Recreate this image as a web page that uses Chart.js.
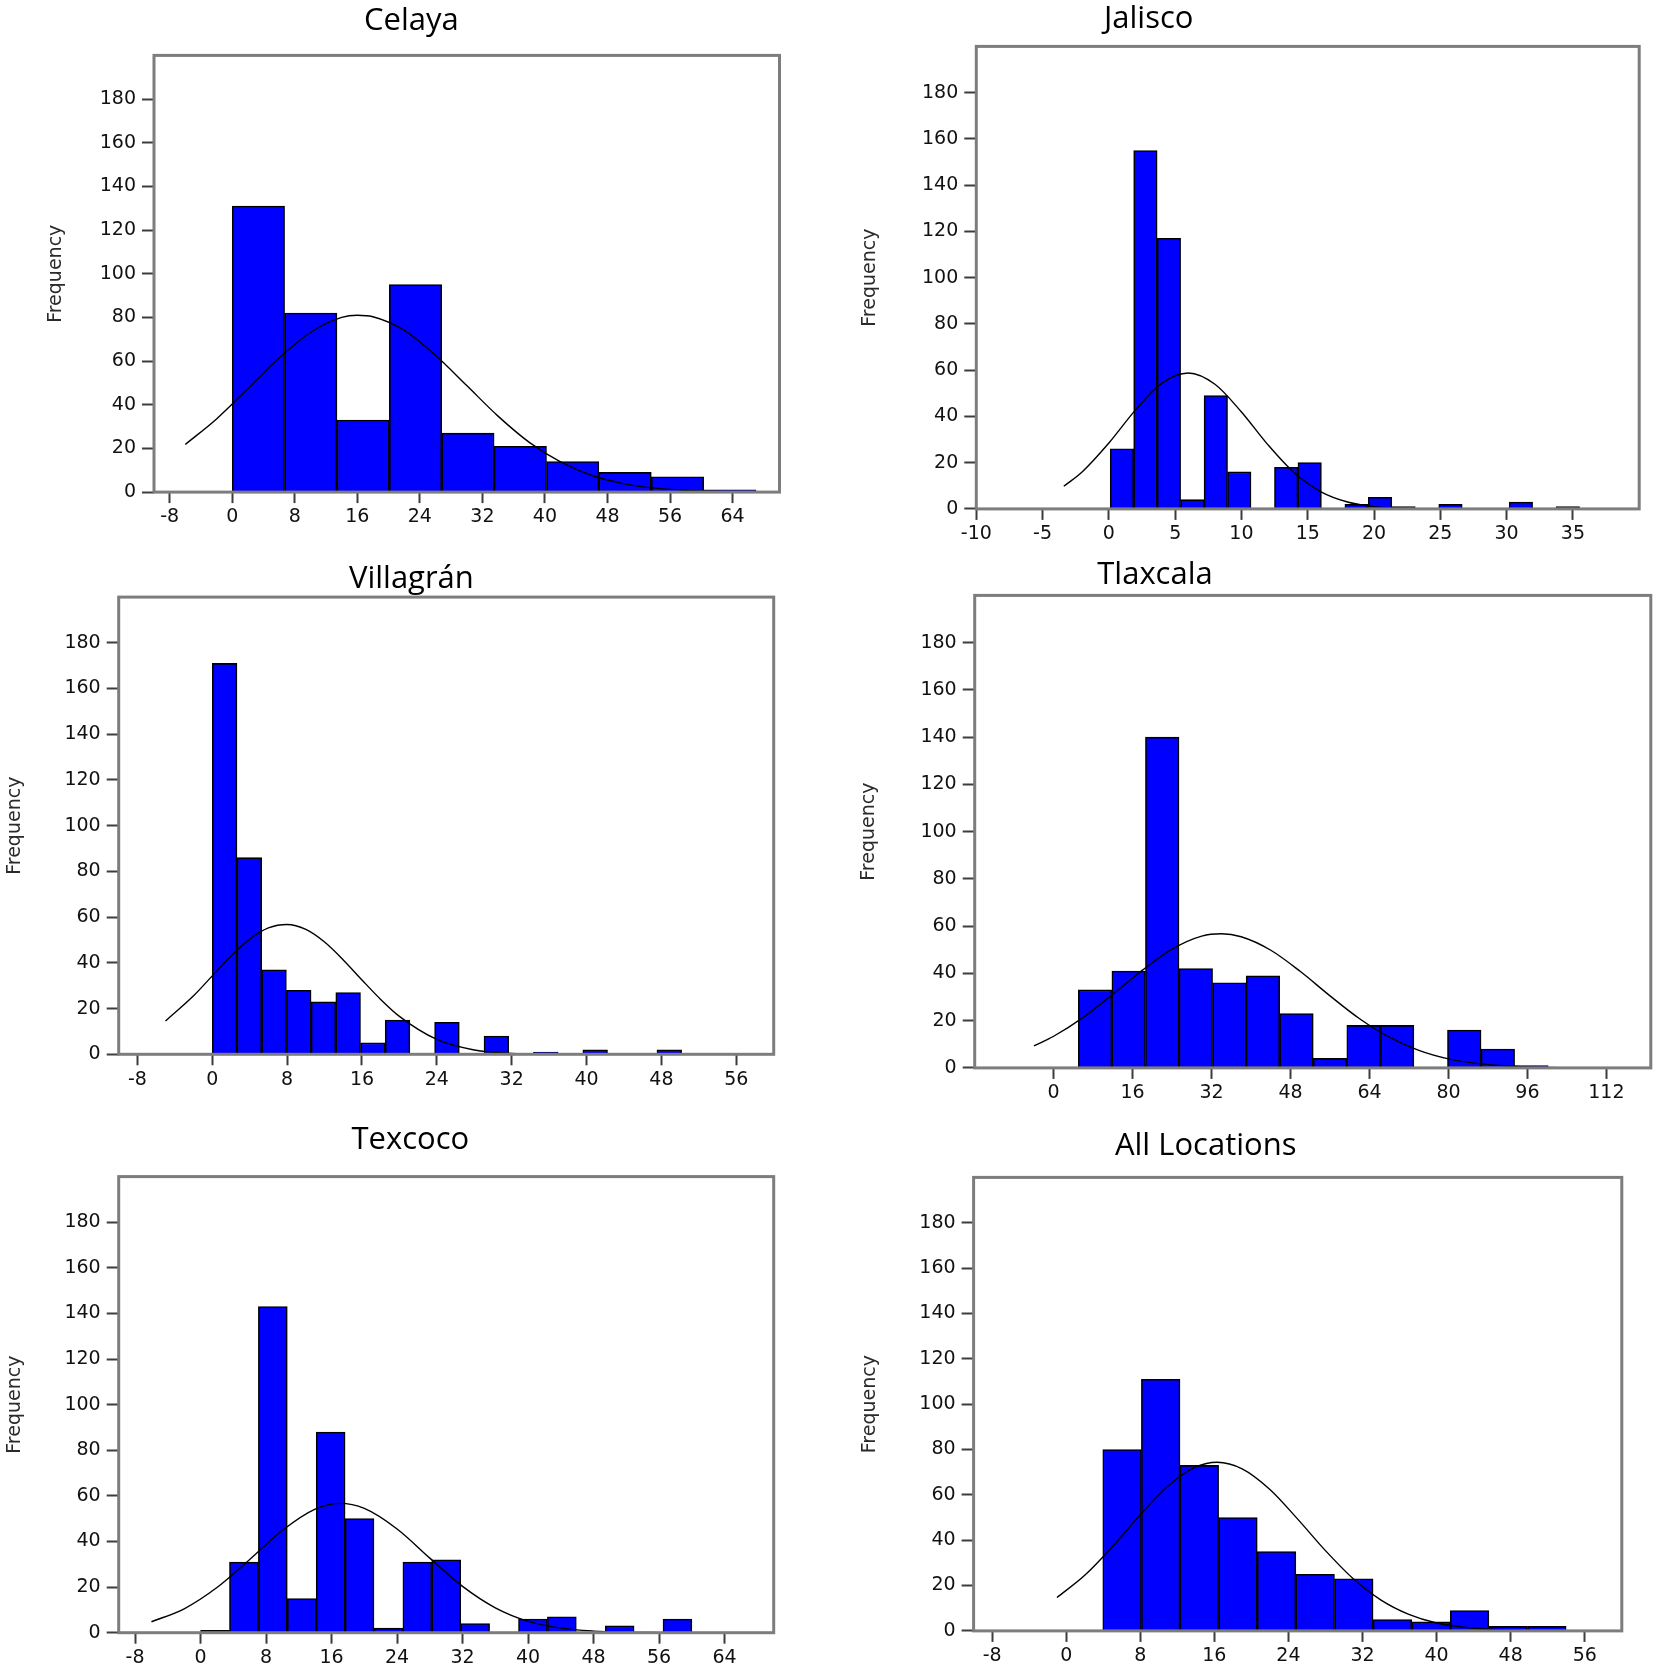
<!DOCTYPE html>
<html>
<head>
<meta charset="utf-8">
<script src="https://cdn.jsdelivr.net/npm/chart.js@4.4.1/dist/chart.umd.min.js"></script>
<style>
  html, body { margin: 0; padding: 0; background: #fff; overflow: hidden; }
  body { width: 1654px; height: 1667px; position: relative; }
  .panel { position: absolute; }
  .title {
    position: absolute;
    font-family: "Open Sans", sans-serif;
    font-size: 31px;
    line-height: 1;
    color: #000;
    white-space: nowrap;
    transform: translate(-50%, -50%);
  }
</style>
</head>
<body>
<script>
// y axis is the same on every panel
const yTicks = [0, 20, 40, 60, 80, 100, 120, 140, 160, 180];

// Celaya
const celayaBinStart = 0;
const celayaBinWidth = 6.7;
const celayaCounts = [131, 82, 33, 95, 27, 21, 14, 9, 7, 1];
const celayaCurveX = [-6, -2, 2, 6, 10, 14, 16, 18, 22, 26, 30, 34, 38, 42, 46, 50, 54, 58, 62, 66];
const celayaCurveY = [21.8, 33.5, 47.3, 61.4, 73.1, 80, 81, 80.3, 74.1, 62.7, 48.8, 34.8, 22.8, 13.8, 7.6, 3.9, 1.8, 0.8, 0.3, 0.1];
const celayaTicks = [-8, 0, 8, 16, 24, 32, 40, 48, 56, 64];

// Jalisco
const jaliscoBinStart = 0.1;
const jaliscoBinWidth = 1.77;
const jaliscoCounts = [26, 155, 117, 4, 49, 16, 0, 18, 20, 0, 2, 5, 1, 0, 2, 0, 0, 3, 0, 1, 0, 0];
const jaliscoCurveX = [-3.4, -2, 0, 2, 4, 6, 8, 10, 12, 14, 16, 18, 20, 24, 28, 32, 38.5];
const jaliscoCurveY = [9.8, 16.1, 28.5, 42.7, 54.4, 58.8, 53.9, 41.9, 27.7, 15.5, 7.4, 3.0, 1.0, 0.1, 0, 0, 0];
const jaliscoTicks = [-10, -5, 0, 5, 10, 15, 20, 25, 30, 35];

// Villagrán
const villagranBinStart = 0;
const villagranBinWidth = 2.64;
const villagranCounts = [171, 86, 37, 28, 23, 27, 5, 15, 0, 14, 0, 8, 0, 1, 0, 2, 0, 0, 2, 0, 0];
const villagranCurveX = [-5, -2, 0, 2, 4, 6, 8, 10, 12, 14, 16, 18, 20, 24, 28, 32, 36, 40, 48, 55];
const villagranCurveY = [14.6, 25.6, 34.3, 43, 50.4, 55.3, 56.8, 54.6, 49.1, 41.3, 32.5, 24.0, 16.6, 6.5, 1.9, 0.4, 0.1, 0, 0, 0];
const villagranTicks = [-8, 0, 8, 16, 24, 32, 40, 48, 56];

// Tlaxcala
const tlaxcalaBinStart = 5.0;
const tlaxcalaBinWidth = 6.8;
const tlaxcalaCounts = [33, 41, 140, 42, 36, 39, 23, 4, 18, 18, 0, 16, 8, 1, 0];
const tlaxcalaCurveX = [-4, 0, 6, 12, 18, 24, 30, 34, 38, 44, 50, 56, 62, 68, 74, 80, 86, 92, 98, 104, 109];
const tlaxcalaCurveY = [9.3, 13.4, 21.4, 31.2, 41.4, 50.3, 55.8, 56.8, 55.5, 49.8, 40.8, 30.5, 20.8, 13.0, 7.4, 3.8, 1.8, 0.8, 0.3, 0.1, 0];
const tlaxcalaTicks = [0, 16, 32, 48, 64, 80, 96, 112];

// Texcoco
const texcocoBinStart = 0;
const texcocoBinWidth = 3.53;
const texcocoCounts = [1, 31, 143, 15, 88, 50, 2, 31, 32, 4, 0, 6, 7, 0, 3, 0, 6, 0, 0];
const texcocoCurveX = [-6, -2, 2, 6, 10, 14, 17, 20, 24, 28, 32, 36, 40, 44, 48, 52, 56, 60, 65];
const texcocoCurveY = [4.8, 10.5, 19.8, 32.1, 44.9, 54.2, 56.7, 54.5, 45.5, 32.7, 20.3, 10.9, 5.0, 2.0, 0.7, 0.2, 0.05, 0, 0];
const texcocoTicks = [-8, 0, 8, 16, 24, 32, 40, 48, 56, 64];

// All Locations
const allBinStart = 3.95;
const allBinWidth = 4.17;
const allCounts = [80, 111, 73, 50, 35, 25, 23, 5, 4, 9, 2, 2, 0];
const allCurveX = [-1, 2, 5, 8, 11, 14, 16.3, 19, 22, 25, 28, 31, 34, 37, 40, 44, 48, 52, 56, 59];
const allCurveY = [14.7, 24.5, 37.2, 51.2, 63.9, 72.3, 74.4, 71.5, 62.4, 49.3, 35.4, 23.0, 13.6, 7.3, 3.5, 1.2, 0.3, 0.1, 0, 0];
const allTicks = [-8, 0, 8, 16, 24, 32, 40, 48, 56];

// frame = [left, top, right, bottom] of the plot box on the page
const panels = [
  { title: "Celaya", start: celayaBinStart, width: celayaBinWidth, counts: celayaCounts,
    curveX: celayaCurveX, curveY: celayaCurveY, ticks: celayaTicks, xMin: -10, xMax: 70,
    frame: [154, 55.4, 779.5, 492.1], labelX: 56, titleAt: [411.4, 17.9] },
  { title: "Jalisco", start: jaliscoBinStart, width: jaliscoBinWidth, counts: jaliscoCounts,
    curveX: jaliscoCurveX, curveY: jaliscoCurveY, ticks: jaliscoTicks, xMin: -10, xMax: 40,
    frame: [976.3, 46.4, 1639.2, 508.9], labelX: 870, titleAt: [1148.7, 16] },
  { title: "Villagrán", start: villagranBinStart, width: villagranBinWidth, counts: villagranCounts,
    curveX: villagranCurveX, curveY: villagranCurveY, ticks: villagranTicks, xMin: -10, xMax: 60,
    frame: [118.7, 597.1, 773.7, 1054.3], labelX: 15.5, titleAt: [411.4, 575.7] },
  { title: "Tlaxcala", start: tlaxcalaBinStart, width: tlaxcalaBinWidth, counts: tlaxcalaCounts,
    curveX: tlaxcalaCurveX, curveY: tlaxcalaCurveY, ticks: tlaxcalaTicks, xMin: -16, xMax: 121,
    frame: [974.7, 595.4, 1650.8, 1067.9], labelX: 869, titleAt: [1155, 572] },
  { title: "Texcoco", start: texcocoBinStart, width: texcocoBinWidth, counts: texcocoCounts,
    curveX: texcocoCurveX, curveY: texcocoCurveY, ticks: texcocoTicks, xMin: -10, xMax: 70,
    frame: [118.7, 1176.6, 773.7, 1632.7], labelX: 15.5, titleAt: [410.3, 1137.4] },
  { title: "All Locations", start: allBinStart, width: allBinWidth, counts: allCounts,
    curveX: allCurveX, curveY: allCurveY, ticks: allTicks, xMin: -10, xMax: 60,
    frame: [973.6, 1177.4, 1621.8, 1630.9], labelX: 870, titleAt: [1205.7, 1142.7] }
];

Chart.defaults.font.family = '"DejaVu Sans", Verdana, sans-serif';
Chart.defaults.font.size = 19;
Chart.defaults.color = "#111";

// grey box round the plot area, drawn over the bar bases like the original
const framePlugin = {
  id: "frame",
  afterDatasetsDraw(chart) {
    const { ctx, chartArea: a } = chart;
    ctx.save();
    ctx.strokeStyle = "#7d7d7d";
    ctx.lineWidth = 3;
    ctx.strokeRect(a.left, a.top, a.right - a.left, a.bottom - a.top);
    ctx.restore();
  }
};

panels.forEach((p) => {
  const [L, T, R, B] = p.frame;
  const left = Math.round(p.labelX - 11.4);
  const top = Math.round(T - 20);
  const right = Math.round(R + 6);
  const bottom = Math.round(B + 42);

  const box = document.createElement("div");
  box.className = "panel";
  box.style.left = left + "px";
  box.style.top = top + "px";
  box.style.width = (right - left) + "px";
  box.style.height = (bottom - top) + "px";
  const canvas = document.createElement("canvas");
  box.appendChild(canvas);
  document.body.appendChild(box);

  const title = document.createElement("div");
  title.className = "title";
  title.textContent = p.title;
  title.style.left = p.titleAt[0] + "px";
  title.style.top = p.titleAt[1] + "px";
  document.body.appendChild(title);

  const axisWidth = L - left;
  const axisHeight = bottom - B;

  const bars = p.counts.map((c, i) => ({ x: p.start + p.width * (i + 0.5), y: c }));
  const curve = p.curveX.map((x, i) => ({ x: x, y: p.curveY[i] }));

  new Chart(canvas, {
    type: "bar",
    data: {
      datasets: [
        {
          type: "line",
          data: curve,
          borderColor: "#000",
          borderWidth: 1.4,
          pointRadius: 0,
          cubicInterpolationMode: "monotone",
          fill: false,
          order: 0
        },
        {
          type: "bar",
          data: bars,
          backgroundColor: "#0000ff",
          borderColor: "#000",
          borderWidth: 1.6,
          barPercentage: 1,
          categoryPercentage: 1,
          order: 1
        }
      ]
    },
    options: {
      responsive: true,
      maintainAspectRatio: false,
      animation: false,
      layout: { padding: { top: T - top, right: right - R, left: 0, bottom: 0 } },
      plugins: { legend: { display: false }, tooltip: { enabled: false } },
      scales: {
        x: {
          type: "linear",
          min: p.xMin,
          max: p.xMax,
          offset: false,
          grid: { drawOnChartArea: false, offset: false, tickLength: 11, tickWidth: 2, tickColor: "#3c3c3c" },
          border: { display: false },
          ticks: { padding: 3, maxRotation: 0, autoSkip: false },
          afterBuildTicks: (s) => { s.ticks = p.ticks.map((v) => ({ value: v })); },
          afterFit: (s) => { s.height = axisHeight; }
        },
        y: {
          min: 0,
          max: 200,
          grid: { drawOnChartArea: false, tickLength: 12, tickWidth: 2, tickColor: "#3c3c3c" },
          border: { display: false },
          ticks: { padding: 6 },
          title: { display: true, text: "Frequency", padding: 0, color: "#2a2a2a" },
          afterBuildTicks: (s) => { s.ticks = yTicks.map((v) => ({ value: v })); },
          afterFit: (s) => { s.width = axisWidth; }
        }
      }
    },
    plugins: [framePlugin]
  });
});
</script>
</body>
</html>
